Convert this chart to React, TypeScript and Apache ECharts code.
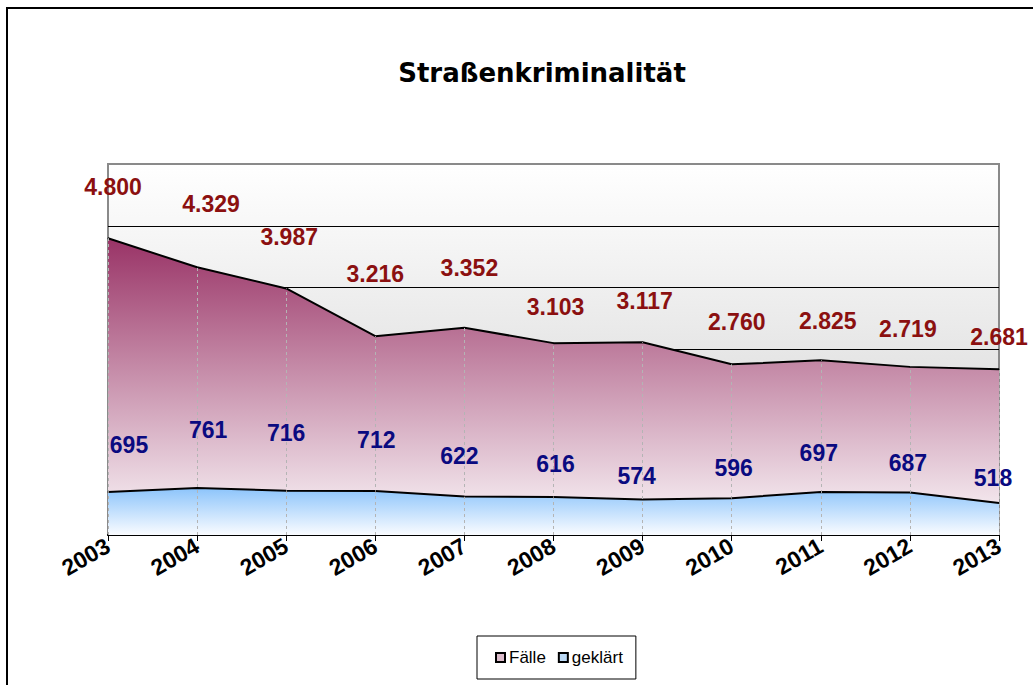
import React, { useEffect, useRef } from "react";
import * as echarts from "echarts";

const years = ["2003", "2004", "2005", "2006", "2007", "2008", "2009", "2010", "2011", "2012", "2013"];
const faelle = [4800, 4329, 3987, 3216, 3352, 3103, 3117, 2760, 2825, 2719, 2681];
const geklaert = [695, 761, 716, 712, 622, 616, 574, 596, 697, 687, 518];
const yTicks = { min: 0, max: 6000, interval: 1000 };

// label nudges (style only)
const faelleLabelOffsets = [[5, -34], [14, -46], [3, -34], [0, -45], [5, -43], [2, -19], [2, -24], [5, -25], [7, -22], [-2, -21], [0, -15]];
const geklaertLabelOffsets = [[21, -30], [11, -41], [0, -41], [1, -34], [-5, -24], [2, -16], [-6, -7], [2, -13], [-2, -22], [-2, -13], [-6, -8]];

const fmt = (v: number) => String(v).replace(/\B(?=(\d{3})+(?!\d))/g, ".");
const FONT = "'Liberation Sans', Arial, sans-serif";

export default function App() {
  const ref = useRef<HTMLDivElement>(null);
  useEffect(() => {
    if (!ref.current) return;
    const chart = echarts.init(ref.current, undefined, { renderer: "svg" });
    const labelBase = {
      show: true,
      position: "top",
      formatter: (p: any) => fmt(p.value),
      fontSize: 23,
      fontWeight: "bold",
      fontFamily: FONT,
    };
    chart.setOption({
      animation: false,
      backgroundColor: "#ffffff",
      textStyle: { fontFamily: FONT },
      title: {
        text: "Straßenkriminalität",
        left: 537,
        top: 55,
        textAlign: "center",
        textStyle: { fontSize: 26, fontWeight: "bold", color: "#000", fontFamily: "'DejaVu Sans', sans-serif" },
      },
      graphic: [
        {
          type: "polyline",
          shape: { points: [[7, 690], [7, 8], [1040, 8]] },
          style: { stroke: "#000", lineWidth: 2, fill: null },
          silent: true,
        },
      ],
      legend: {
        left: 477,
        top: 636,
        orient: "horizontal",
        padding: [13, 13, 13, 18],
        borderColor: "#000",
        borderWidth: 1,
        itemGap: 12,
        itemWidth: 9,
        itemHeight: 9,
        icon: "rect",
        textStyle: { fontSize: 17, color: "#000", fontFamily: FONT, padding: [0, 0, 0, -1] },
        data: [
          { name: "Fälle", itemStyle: { color: "#dcbccb", borderColor: "#000", borderWidth: 2 } },
          { name: "geklärt", itemStyle: { color: "#bcdaf6", borderColor: "#000", borderWidth: 2 } },
        ],
      },
      grid: {
        left: 108,
        right: 34,
        top: 164,
        bottom: 150,
        show: true,
        borderColor: "#8a8a8a",
        borderWidth: 2,
        backgroundColor: new echarts.graphic.LinearGradient(0, 0, 0, 1, [
          { offset: 0, color: "#ffffff" },
          { offset: 1, color: "#cfcfcf" },
        ]),
      },
      xAxis: {
        type: "category",
        data: years,
        boundaryGap: false,
        axisLine: { lineStyle: { color: "#000", width: 2 } },
        axisTick: { show: true, length: 6, lineStyle: { color: "#000", width: 1 } },
        axisLabel: {
          rotate: 30,
          margin: 9,
          fontSize: 23,
          fontWeight: "bold",
          color: "#000",
          fontFamily: FONT,
        },
        splitLine: { show: false },
      },
      yAxis: {
        type: "value",
        min: yTicks.min,
        max: yTicks.max,
        interval: yTicks.interval,
        axisLabel: { show: false },
        axisLine: { show: false },
        axisTick: { show: false },
        splitLine: {
          show: true,
          lineStyle: {
            color: ["#000", "#000", "#000", "#000", "#000", "#000", "#8a8a8a"],
            width: 1,
          },
        },
      },
      series: [
        {
          name: "Fälle",
          type: "line",
          data: faelle.map((v, i) => ({
            value: v,
            label: { offset: faelleLabelOffsets[i] },
          })),
          symbol: "circle",
          symbolSize: 1,
          showSymbol: true,
          lineStyle: { color: "#000", width: 2 },
          itemStyle: { color: "#000" },
          areaStyle: {
            opacity: 1,
            color: new echarts.graphic.LinearGradient(0, 0, 0, 1, [
              { offset: 0, color: "#993366" },
              { offset: 1, color: "#fdfbfc" },
            ]),
          },
          label: { ...labelBase, color: "#8b1010" },
          z: 2,
        },
        {
          name: "geklärt",
          type: "line",
          data: geklaert,
          symbol: "none",
          lineStyle: { color: "#000", width: 2 },
          itemStyle: { color: "#bcdaf6" },
          areaStyle: {
            opacity: 1,
            color: new echarts.graphic.LinearGradient(0, 0, 0, 1, [
              { offset: 0, color: "#8cc4fb" },
              { offset: 1, color: "#fafcff" },
            ]),
          },
          markLine: {
            silent: true,
            symbol: "none",
            label: { show: false },
            lineStyle: { color: "#b4b4b4", width: 1, type: [3, 3] },
            data: faelle.map((v, i) => [
              { coord: [years[i], 0] },
              { coord: [years[i], v] },
            ]),
          },
          z: 3,
        },
        {
          name: "geklärt-labels",
          type: "line",
          data: geklaert.map((v, i) => ({
            value: v,
            label: { offset: geklaertLabelOffsets[i] },
          })),
          symbol: "circle",
          symbolSize: 1,
          showSymbol: true,
          lineStyle: { width: 0, opacity: 0 },
          itemStyle: { color: "#000" },
          label: { ...labelBase, color: "#0a0a80" },
          z: 5,
        },
      ],
    });
    return () => chart.dispose();
  }, []);
  return (
    <div
      ref={ref}
      style={{ position: "absolute", left: 0, top: 0, width: 1033, height: 685 }}
    />
  );
}
